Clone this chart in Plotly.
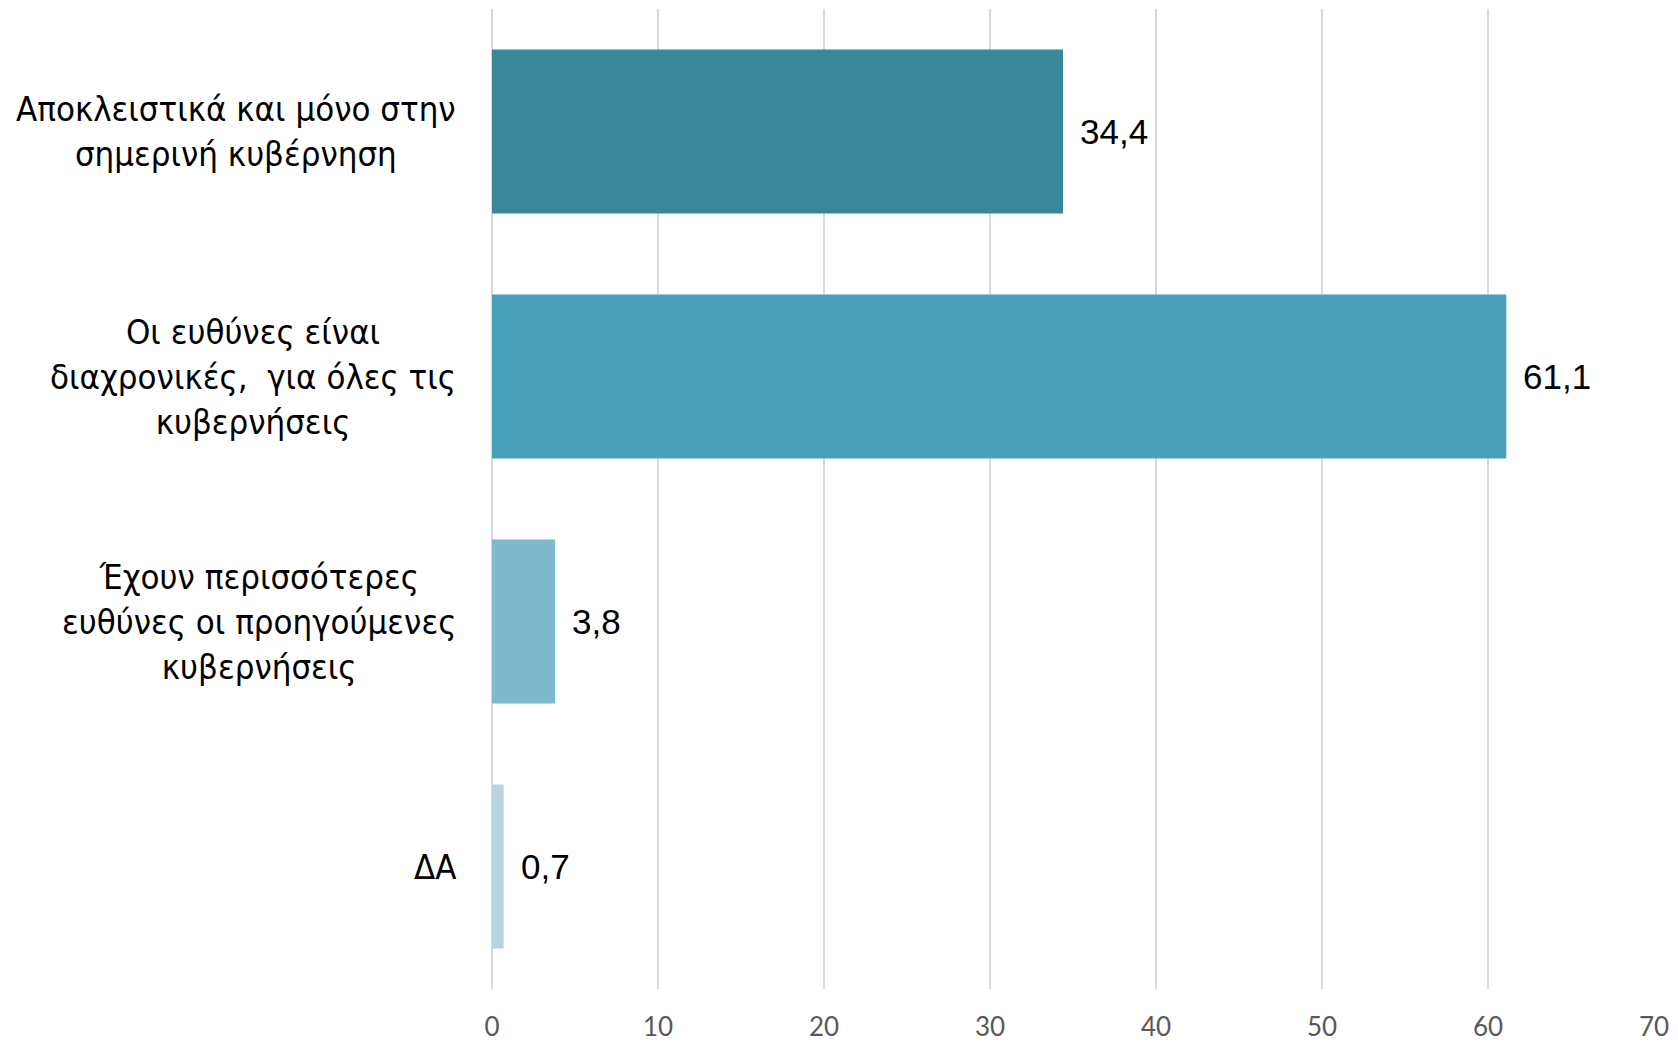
import plotly.graph_objects as go

categories = [
    "Αποκλειστικά και μόνο στην<br>σημερινή κυβέρνηση",
    "Οι ευθύνες είναι<br>διαχρονικές,  για όλες τις<br>κυβερνήσεις",
    "Έχουν περισσότερες<br>ευθύνες οι προηγούμενες<br>κυβερνήσεις",
    "ΔΑ",
]
values = [34.4, 61.1, 3.8, 0.7]
value_labels = ["34,4", "61,1", "3,8", "0,7"]
bar_colors = ["#3A8799", "#48A1B9", "#7FB9CE", "#B5D5E0"]
x_ticks = [0, 10, 20, 30, 40, 50, 60, 70]

fig = go.Figure()

fig.add_trace(go.Bar(
    x=values,
    y=list(range(len(categories))),
    orientation="h",
    marker=dict(color=bar_colors, line=dict(width=0)),
    hoverinfo="skip",
))

# category labels, centred multi-line like the original
for i, cat in enumerate(categories):
    fig.add_annotation(
        x=0, xref="paper", y=i, yref="y",
        text=cat, showarrow=False,
        xanchor="right", align="center", xshift=-34,
        font=dict(family="DejaVu Sans Condensed, Liberation Sans", size=34.5, color="#000000"),
    )

# value labels at the bar ends
for i, (v, lab) in enumerate(zip(values, value_labels)):
    fig.add_annotation(
        x=v, y=i, text=lab, showarrow=False,
        xanchor="left", xshift=15,
        font=dict(family="Liberation Sans", size=35, color="#000000"),
    )

# page body has an 8px margin, so the figure is offset by that
fig.update_layout(
    width=1670, height=1036,
    margin=dict(l=484, r=24, t=1, b=55),
    paper_bgcolor="white",
    plot_bgcolor="white",
    bargap=0.33,
    showlegend=False,
    xaxis=dict(
        range=[0, 70],
        tickvals=x_ticks,
        automargin=False,
        showgrid=True, gridcolor="#D9D9D9", gridwidth=2,
        zeroline=True, zerolinecolor="#D9D9D9", zerolinewidth=2,
        showline=False,
        ticks="outside", ticklen=15, tickcolor="rgba(0,0,0,0)",
        tickfont=dict(family="Lato", size=26, color="#595959"),
    ),
    yaxis=dict(
        range=[3.5, -0.5],
        automargin=False,
        showticklabels=False,
        showgrid=False, zeroline=False, showline=False,
    ),
)

fig.write_html("out.html")
